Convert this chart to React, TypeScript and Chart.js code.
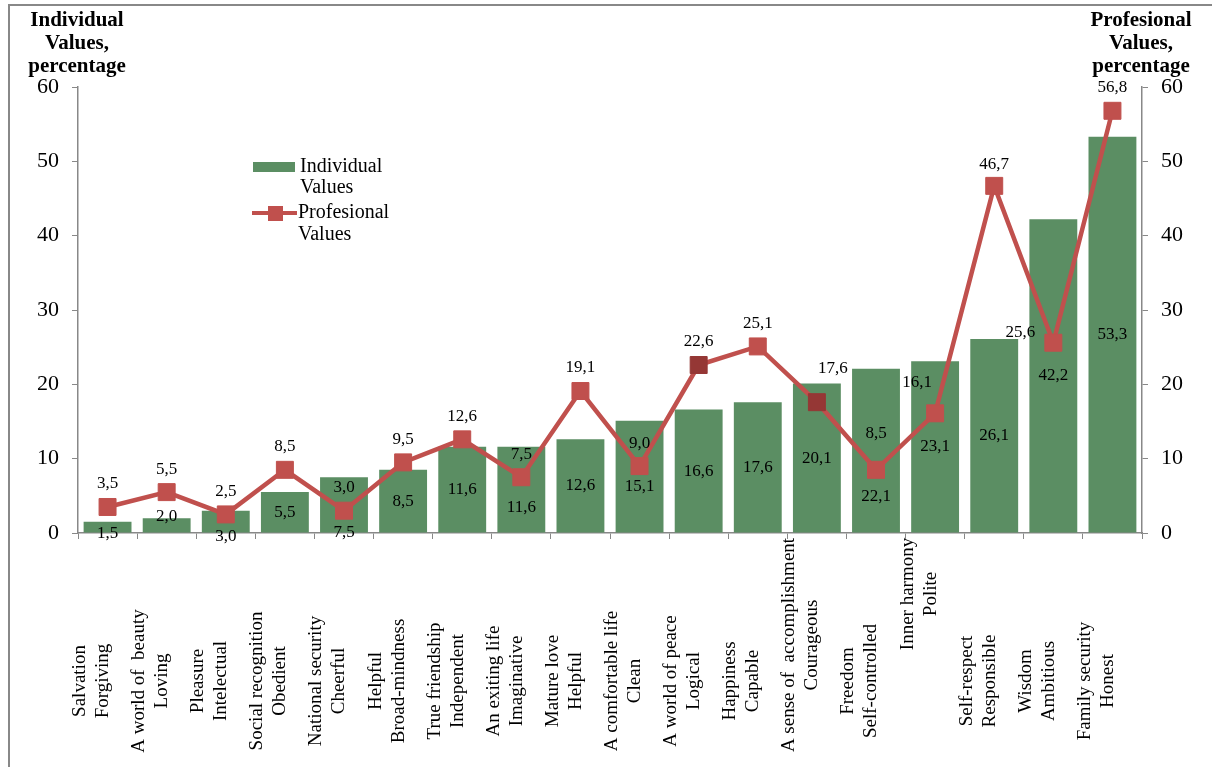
import React, { useEffect, useRef } from "react";
import { Chart, registerables } from "chart.js";

Chart.register(...registerables);

const categories: string[][] = [
  ["Salvation", "Forgiving"],
  ["A world of  beauty", "Loving"],
  ["Pleasure", "Intelectual"],
  ["Social recognition", "Obedient"],
  ["National security", "Cheerful"],
  ["Helpful", "Broad-mindness"],
  ["True friendship", "Independent"],
  ["An exiting life", "Imaginative"],
  ["Mature love", "Helpful"],
  ["A comfortable life", "Clean"],
  ["A world of peace", "Logical"],
  ["Happiness", "Capable"],
  ["A sense of  accomplishment", "Courageous"],
  ["Freedom", "Self-controlled"],
  ["Inner harmony", "Polite"],
  ["Self-respect", "Responsible"],
  ["Wisdom", "Ambitious"],
  ["Family security", "Honest"],
];

const individualValues = [1.5, 2.0, 3.0, 5.5, 7.5, 8.5, 11.6, 11.6, 12.6, 15.1, 16.6, 17.6, 20.1, 22.1, 23.1, 26.1, 42.2, 53.3];
const profesionalValues = [3.5, 5.5, 2.5, 8.5, 3.0, 9.5, 12.6, 7.5, 19.1, 9.0, 22.6, 25.1, 17.6, 8.5, 16.1, 46.7, 25.6, 56.8];

const yTicks = [0, 10, 20, 30, 40, 50, 60];

// label layout tweaks (pixels), not data
const barLabelNudgeY: Record<number, number> = { 0: 6, 1: -9, 2: 15, 4: 28, 7: 18, 9: 10, 13: 46 };
const lineLabelNudge: Record<number, [number, number]> = { 12: [16, -11], 13: [0, -13], 14: [-18, -8], 15: [0, 2], 16: [-33, 13] };
const xLabelRaise: Record<number, number> = { 12: 36, 14: 87 };

const BAR_COLOR = "#5B8E63";
const LINE_COLOR = "#C0504D";
const DARK_RED = "#953735";
const FONT = "'Liberation Serif', 'Times New Roman', serif";

const fmt = (v: number) => v.toFixed(1).replace(".", ",");

const overlayPlugin = {
  id: "overlay",
  afterDatasetsDraw(chart: any) {
    const ctx = chart.ctx;
    ctx.save();
    ctx.font = `17px ${FONT}`;
    ctx.fillStyle = "#000";
    ctx.textAlign = "center";
    ctx.textBaseline = "middle";
    const barMeta = chart.getDatasetMeta(0);
    barMeta.data.forEach((el: any, i: number) => {
      const cy = (el.y + el.base) / 2 + (barLabelNudgeY[i] || 0);
      ctx.fillText(fmt(individualValues[i]), el.x, cy);
    });
    const lineMeta = chart.getDatasetMeta(1);
    lineMeta.data.forEach((el: any, i: number) => {
      const n = lineLabelNudge[i] || [0, 0];
      ctx.fillText(fmt(profesionalValues[i]), el.x + n[0], el.y - 23 + n[1]);
    });
    ctx.restore();
  },
  afterDraw(chart: any) {
    const ctx = chart.ctx;
    const xScale = chart.scales.x;
    ctx.save();
    // frame lines
    ctx.strokeStyle = "#888";
    ctx.lineWidth = 2;
    ctx.beginPath();
    ctx.moveTo(9, 767);
    ctx.lineTo(9, 5);
    ctx.lineTo(1212, 5);
    ctx.stroke();

    // axis titles
    ctx.fillStyle = "#000";
    ctx.textAlign = "center";
    ctx.textBaseline = "middle";
    ctx.font = `bold 21px ${FONT}`;
    ["Individual", "Values,", "percentage"].forEach((t, k) => ctx.fillText(t, 77, 21 + k * 23));
    ["Profesional", "Values,", "percentage"].forEach((t, k) => ctx.fillText(t, 1141, 21 + k * 23));

    // category labels (rotated)
    ctx.font = `19px ${FONT}`;
    categories.forEach((lines, i) => {
      const cx = xScale.getPixelForValue(i) - 16;
      const cy = 681 - (xLabelRaise[i] || 0);
      ctx.save();
      ctx.translate(cx, cy);
      ctx.rotate(-Math.PI / 2);
      ctx.textAlign = "center";
      ctx.textBaseline = "middle";
      lines.forEach((ln, k) => ctx.fillText(ln, 0, (k - (lines.length - 1) / 2) * 23));
      ctx.restore();
    });

    // legend
    ctx.fillStyle = BAR_COLOR;
    ctx.fillRect(253, 162, 42, 10);
    ctx.strokeStyle = LINE_COLOR;
    ctx.lineWidth = 4;
    ctx.beginPath();
    ctx.moveTo(252, 213);
    ctx.lineTo(297, 213);
    ctx.stroke();
    ctx.fillStyle = LINE_COLOR;
    ctx.fillRect(268, 206, 15, 15);
    ctx.fillStyle = "#000";
    ctx.textAlign = "left";
    ctx.font = `20px ${FONT}`;
    ctx.fillText("Individual", 300, 167);
    ctx.fillText("Values", 300, 188);
    ctx.fillText("Profesional", 298, 213);
    ctx.fillText("Values", 298, 235);
    ctx.restore();
  },
};

export default function App() {
  const ref = useRef<HTMLCanvasElement | null>(null);
  useEffect(() => {
    if (!ref.current) return;
    const pointColors = profesionalValues.map((_, i) => (i === 10 || i === 12 ? DARK_RED : LINE_COLOR));
    const axisCommon = (position: "left" | "right") => ({
      type: "linear" as const,
      position,
      min: 0,
      max: 60,
      afterBuildTicks: (s: any) => {
        s.ticks = yTicks.map((v) => ({ value: v }));
      },
      afterFit: (s: any) => {
        s.width = 70;
      },
      ticks: { font: { family: FONT, size: 22 }, color: "#000", padding: 13 },
      grid: { display: true, drawOnChartArea: false, drawTicks: true, tickLength: 6, color: "#888" },
      border: { display: true, color: "#888", width: 1.5 },
    });
    const chart = new Chart(ref.current, {
      type: "bar",
      data: {
        labels: categories,
        datasets: [
          {
            type: "bar",
            label: "Individual Values",
            data: individualValues,
            backgroundColor: BAR_COLOR,
            barPercentage: 0.81,
            categoryPercentage: 1,
            yAxisID: "y",
            order: 1,
          },
          {
            type: "line",
            label: "Profesional Values",
            data: profesionalValues,
            borderColor: LINE_COLOR,
            borderWidth: 4.5,
            pointStyle: "rect",
            pointRadius: 12,
            pointBackgroundColor: pointColors,
            pointBorderColor: pointColors,
            pointBorderWidth: 1,
            tension: 0,
            yAxisID: "y1",
            order: 0,
          } as any,
        ],
      },
      options: {
        animation: false,
        responsive: false,
        maintainAspectRatio: false,
        layout: { padding: { left: 8, right: 0, top: 87, bottom: 0 } },
        plugins: { legend: { display: false }, tooltip: { enabled: false } },
        scales: {
          x: {
            type: "category",
            offset: true,
            ticks: { display: false },
            grid: { display: true, drawOnChartArea: false, drawTicks: true, tickLength: 6, color: "#888", offset: true },
            border: { display: true, color: "#888", width: 1.5 },
            afterFit: (s: any) => {
              s.height = 234;
            },
          },
          y: axisCommon("left"),
          y1: axisCommon("right"),
        },
      } as any,
      plugins: [overlayPlugin],
    });
    return () => chart.destroy();
  }, []);
  return (
    <div style={{ position: "absolute", left: 0, top: 0, width: 1212, height: 767, background: "#fff" }}>
      <canvas ref={ref} width={1212} height={767} style={{ display: "block", width: 1212, height: 767 }} />
    </div>
  );
}
